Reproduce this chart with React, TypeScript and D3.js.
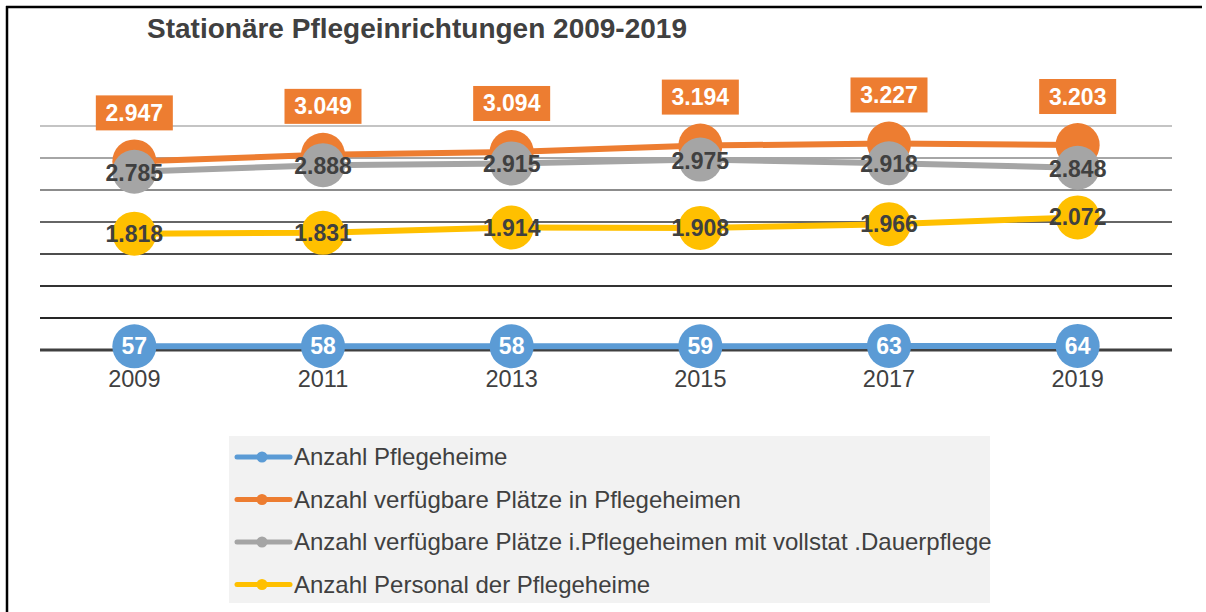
import React from "react";
import * as d3 from "d3";

const years = ["2009", "2011", "2013", "2015", "2017", "2019"];
const heime = [57, 58, 58, 59, 63, 64];
const plaetze = [2947, 3049, 3094, 3194, 3227, 3203];
const plaetzeDauer = [2785, 2888, 2915, 2975, 2918, 2848];
const personal = [1818, 1831, 1914, 1908, 1966, 2072];
const yTicks = [0, 500, 1000, 1500, 2000, 2500, 3000, 3500];
const seriesNames = [
  "Anzahl Pflegeheime",
  "Anzahl verfügbare Plätze in Pflegeheimen",
  "Anzahl verfügbare Plätze i.Pflegeheimen mit vollstat .Dauerpflege",
  "Anzahl Personal der Pflegeheime",
];
const colors = ["#5B9BD5", "#ED7D31", "#A5A5A5", "#FFC000"];
const gridColors = ["#404040", "#262626", "#333333", "#4d4d4d", "#666666", "#8c8c8c", "#a6a6a6", "#c4c4c4"];

const fmt = (v: number) => (v >= 1000 ? d3.format(",")(v).replace(",", ".") : String(v));

export default function App() {
  const W = 1206, H = 612;
  const x = d3.scaleBand<string>().domain(years).range([40, 1172]);
  const cx = (i: number) => (x(years[i]) as number) + x.bandwidth() / 2;
  const y = d3.scaleLinear().domain([0, 3500]).range([350, 126]);
  const line = d3.line<number>().x((_, i) => cx(i)).y((v) => y(v));
  const all = [heime, plaetze, plaetzeDauer, personal];
  const font = "Liberation Sans, Arial, sans-serif";
  const r = 22;
  const lf = 23;

  return (
    <svg width={W} height={H} style={{ position: "absolute", left: 0, top: 0 }} fontFamily={font}>
      <rect x={0} y={0} width={W} height={H} fill="#fff" />
      <line x1={6} x2={1202} y1={7} y2={7} stroke="#000" strokeWidth={2.5} />
      <line x1={7} x2={7} y1={6} y2={H} stroke="#000" strokeWidth={2.5} />
      <text x={147} y={38} fontSize={28} fontWeight="bold" fill="#404040">
        Stationäre Pflegeinrichtungen 2009-2019
      </text>
      {yTicks.map((t, i) => (
        <line key={t} x1={40} x2={1172} y1={y(t)} y2={y(t)} stroke={gridColors[i]} strokeWidth={t === 0 ? 3 : 2} />
      ))}
      {years.map((yr, i) => (
        <text key={yr} x={cx(i)} y={387} textAnchor="middle" fontSize={23.5} fill="#404040">
          {yr}
        </text>
      ))}
      {all.map((s, k) => (
        <g key={k}>
          <path d={line(s) || ""} fill="none" stroke={colors[k]} strokeWidth={6} />
          {s.map((v, i) => (
            <circle key={i} cx={cx(i)} cy={y(v)} r={r} fill={colors[k]} />
          ))}
        </g>
      ))}
      {heime.map((v, i) => (
        <text key={"h" + i} x={cx(i)} y={y(v) + 8} textAnchor="middle" fontSize={lf} fontWeight="bold" fill="#fff">
          {fmt(v)}
        </text>
      ))}
      {plaetze.map((v, i) => (
        <g key={"p" + i}>
          <rect x={cx(i) - 38.5} y={y(v) - 66} width={77} height={35} fill="#ED7D31" />
          <text x={cx(i)} y={y(v) - 40.5} textAnchor="middle" fontSize={lf} fontWeight="bold" fill="#fff">
            {fmt(v)}
          </text>
        </g>
      ))}
      {plaetzeDauer.map((v, i) => (
        <text key={"d" + i} x={cx(i)} y={y(v) + 9} textAnchor="middle" fontSize={lf} fontWeight="bold" fill="#404040">
          {fmt(v)}
        </text>
      ))}
      {personal.map((v, i) => (
        <text key={"q" + i} x={cx(i)} y={y(v) + 8} textAnchor="middle" fontSize={lf} fontWeight="bold" fill="#404040">
          {fmt(v)}
        </text>
      ))}
      <rect x={229} y={436} width={761} height={167} fill="#f2f2f2" />
      {seriesNames.map((n, k) => {
        const ly = 457 + k * 42.5;
        return (
          <g key={n}>
            <line x1={237} x2={290} y1={ly} y2={ly} stroke={colors[k]} strokeWidth={5} strokeLinecap="round" />
            <circle cx={262} cy={ly} r={5.5} fill={colors[k]} />
            <text x={294} y={ly + 8} fontSize={24} fill="#404040">
              {n}
            </text>
          </g>
        );
      })}
    </svg>
  );
}
